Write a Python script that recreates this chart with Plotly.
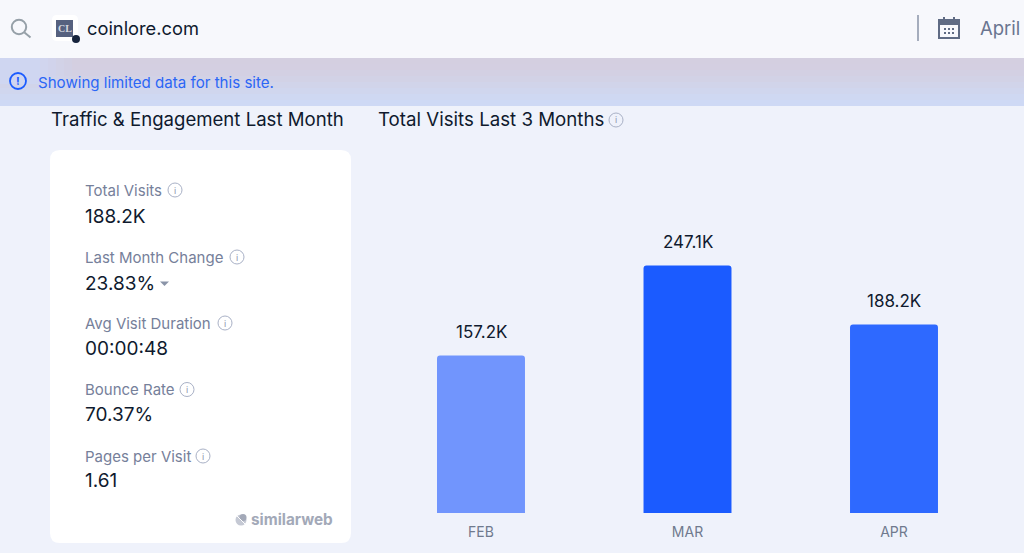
import plotly.graph_objects as go

months = ["FEB", "MAR", "APR"]
visits = [157200, 247100, 188200]
visit_labels = ["157.2K", "247.1K", "188.2K"]
bar_colors = ["#7195fd", "#1b5bff", "#2e69ff"]

metric_names = ["Total Visits", "Last Month Change", "Avg Visit Duration", "Bounce Rate", "Pages per Visit"]
metric_values = ["188.2K", "23.83%", "00:00:48", "70.37%", "1.61"]

W, H = 1024, 553
FONT = "Inter"
DARK = "#0f1a2e"
GREY = "#76809a"


def px(x):
    return x / W


def py(y):
    return 1 - y / H


fig = go.Figure()
fig.add_trace(go.Bar(x=months, y=visits, marker=dict(color=bar_colors, line=dict(width=0), cornerradius=3),
                     width=0.426, hoverinfo="skip"))

shapes = []
notes = []


def rect(x0, y0, x1, y1, fill, line=None, width=0, layer="below"):
    shapes.append(dict(type="rect", xref="paper", yref="paper", x0=px(x0), x1=px(x1), y0=py(y0), y1=py(y1),
                       fillcolor=fill, line=dict(color=line, width=width) if line else dict(width=0), layer=layer))


def circle(cx, cy, r, fill=None, line=None, width=1.2):
    shapes.append(dict(type="circle", xref="paper", yref="paper", x0=px(cx - r), x1=px(cx + r), y0=py(cy + r),
                       y1=py(cy - r), fillcolor=fill if fill else "rgba(0,0,0,0)",
                       line=dict(color=line, width=width) if line else dict(width=0), layer="above"))


def seg(x0, y0, x1, y1, color, width=1.5):
    shapes.append(dict(type="line", xref="paper", yref="paper", x0=px(x0), x1=px(x1), y0=py(y0), y1=py(y1),
                       line=dict(color=color, width=width), layer="above"))


def rounded(x0, y0, x1, y1, r, fill):
    a, b, c, d = px(x0), px(x1), py(y0), py(y1)
    rx, ry = r / W, r / H
    path = (f"M{a + rx},{c} L{b - rx},{c} Q{b},{c} {b},{c - ry} L{b},{d + ry} Q{b},{d} {b - rx},{d} "
            f"L{a + rx},{d} Q{a},{d} {a},{d + ry} L{a},{c - ry} Q{a},{c} {a + rx},{c} Z")
    shapes.append(dict(type="path", xref="paper", yref="paper", path=path, fillcolor=fill, line=dict(width=0),
                       layer="below"))


def text(x, y, s, size, color, anchor="left", family=FONT, bold=False):
    if bold:
        s = "<b>" + s + "</b>"
    # annotations carry 2px of padding on the left
    shift = -2 if anchor == "left" else 0
    notes.append(dict(xref="paper", yref="paper", x=px(x), y=py(y), text=s, showarrow=False, xanchor=anchor,
                      yanchor="middle", font=dict(size=size, color=color, family=family), xshift=shift))


def info(cx, cy):
    circle(cx, cy, 7, line="#a9b1c6", width=1)
    text(cx, cy, "i", 9, "#8e97ae", "center")


# background bands
rect(0, 0, W, H, "#eff2fb")
rect(0, 0, W, 58, "#f7f8fc")
band = ["#d4cfe0", "#d4cfe1", "#d3d0e3", "#d2d2e6", "#d1d4ea", "#d0d6ee", "#cfd8f2", "#ced9f5"]
for i, c in enumerate(band):
    rect(0, 58 + i * 6, W, 64 + i * 6, c)
for x0, x1, alpha in [(0, 40, 1), (40, 48, 0.8), (48, 56, 0.6), (56, 64, 0.4), (64, 72, 0.2)]:
    rect(x0, 58, x1, 84, f"rgba(207,214,241,{alpha})")

# search + logo
circle(19, 27, 7.2, line="#96a0a8", width=2)
seg(24.5, 32.5, 30.5, 37.5, "#96a0a8", 2)
rounded(52, 15, 78, 41, 5, "#ffffff")
rect(56, 20, 73, 37, "#56617f", layer="above")
text(64.5, 28.5, "CL", 10, "#d5d8e0", "center", "Liberation Serif", True)
circle(76, 39, 4, fill="#16233c")
text(87, 28, "coinlore.com", 18.3, DARK)

seg(918, 15, 918, 41, "#8a94a8", 1.5)
rect(939, 20, 959, 38, "rgba(0,0,0,0)", "#5f6b84", 2, "above")
rect(939, 20, 959, 25, "#5f6b84", layer="above")
seg(944, 17, 944, 21, "#5f6b84", 2)
seg(954, 17, 954, 21, "#5f6b84", 2)
for dx in (945, 949, 953):
    for dy in (29, 33):
        rect(dx - 1, dy - 1, dx + 1, dy + 1, "#5f6b84", layer="above")
text(980, 28, "April", 18.5, "#6a7590")

# limited data banner
circle(18, 81, 8, line="#1b5bff", width=1.8)
text(18, 81, "<b>!</b>", 11, "#1b5bff", "center")
text(38, 82, "Showing limited data for this site.", 15.1, "#2b66f6")

# headings
text(51, 119, "Traffic &amp; Engagement Last Month", 18.6, DARK)
text(378, 119, "Total Visits Last 3 Months", 18.7, DARK)
info(616, 120)

# metrics card
rounded(50, 150, 351, 543, 10, "#ffffff")
name_y = [190, 257, 323, 389.5, 456]
value_y = [216, 283, 348, 414.5, 480.5]
icon_x = [175, 237, 225, 187, 203]
for name, value, y, vy, ix in zip(metric_names, metric_values, name_y, value_y, icon_x):
    text(85, y, name, 15, GREY)
    info(ix, y)
    text(85, vy, value, 19, DARK)
a, b, c = (px(160), py(281.5)), (px(169), py(281.5)), (px(164.5), py(286))
shapes.append(dict(type="path", xref="paper", yref="paper", fillcolor="#8a94a8", line=dict(width=0), layer="above",
                   path=f"M{a[0]},{a[1]} L{b[0]},{b[1]} L{c[0]},{c[1]} Z"))

circle(241, 520, 5.5, fill="#c5c9d4")
circle(243, 517.5, 3.5, fill="#a3a9b8")
seg(237, 516, 245, 524, "#ffffff", 1)
text(251, 519, "similarweb", 15.3, "#a3a9b8", bold=True)

# value labels sit on the bars
for m, v, lab in zip(months, visits, visit_labels):
    notes.append(dict(x=m, y=v, xref="x", yref="y", text=lab, showarrow=False, yanchor="bottom", yshift=12,
                      font=dict(size=17, color=DARK, family=FONT)))

fig.update_layout(
    width=W, height=H, margin=dict(l=0, r=0, t=0, b=0), paper_bgcolor="#eff2fb", plot_bgcolor="rgba(0,0,0,0)",
    showlegend=False, shapes=shapes, annotations=notes,
    xaxis=dict(domain=[377.75 / W, 997.25 / W], range=[-0.5, 2.5], type="category", showgrid=False, zeroline=False,
               showline=False, ticks="", ticklabelstandoff=9, tickfont=dict(size=14, color="#6f7a8e", family=FONT),
               anchor="y"),
    yaxis=dict(domain=[1 - 513 / H, 1 - 190 / H], range=[0, 322500], visible=False, anchor="x"),
)

fig.write_html("out.html", config=dict(displayModeBar=False),
               post_script="document.body.style.margin='0';document.body.style.overflow='hidden';")
